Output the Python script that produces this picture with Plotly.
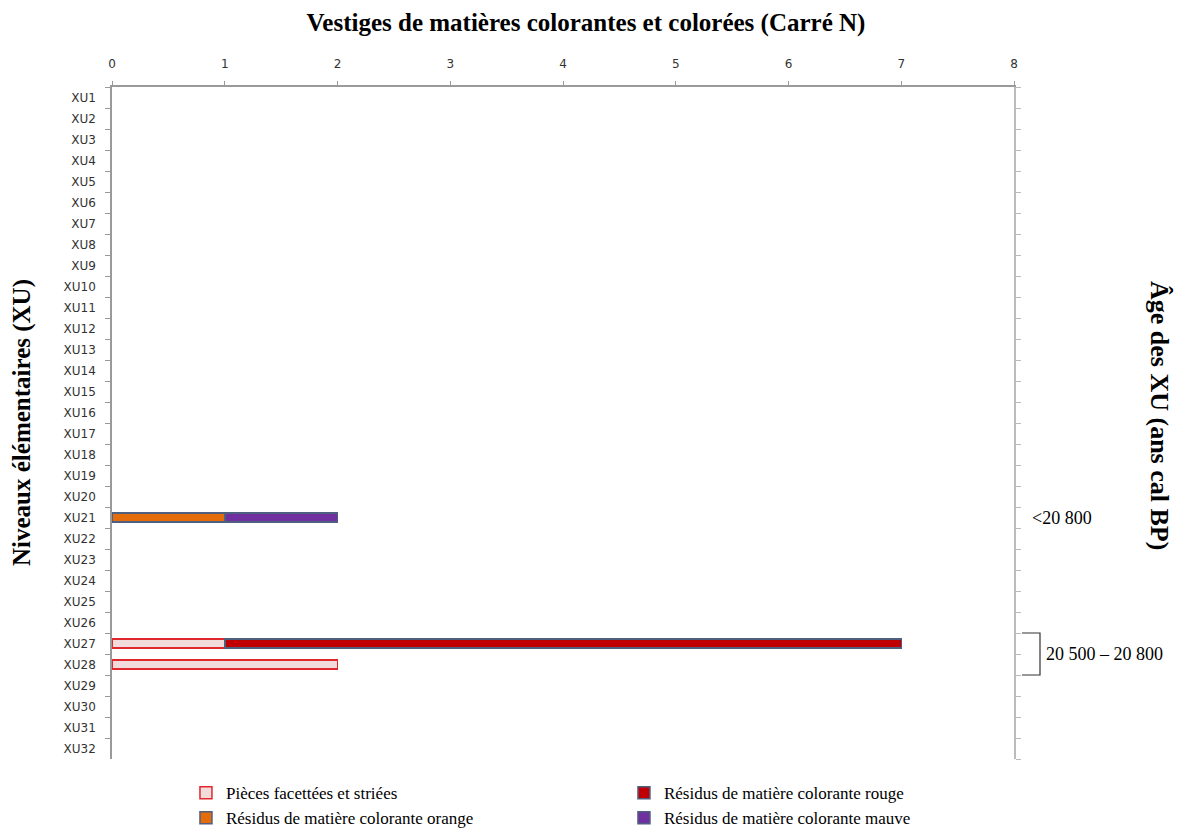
import plotly.graph_objects as go

categories = [f"XU{i}" for i in range(1, 33)]
x_ticks = [0, 1, 2, 3, 4, 5, 6, 7, 8]

# values per XU (index 0 = XU1 ... index 31 = XU32)
pieces_facettees = [0]*32
residus_rouge = [0]*32
residus_orange = [0]*32
residus_mauve = [0]*32
pieces_facettees[26] = 1   # XU27
pieces_facettees[27] = 2   # XU28
residus_rouge[26] = 6      # XU27
residus_orange[20] = 1     # XU21
residus_mauve[20] = 1      # XU21

age_labels = ["<20 800", "20 500 – 20 800"]
age_positions = [20.5, 27.0]   # in XU-index units on the right axis
bracket_span = [26, 28]

series = [
    ("Pièces facettées et striées", pieces_facettees, "#F2DCDB", "#E0282C"),
    ("Résidus de matière colorante rouge", residus_rouge, "#C00000", "#4F5F80"),
    ("Résidus de matière colorante orange", residus_orange, "#E46C0A", "#4F5F80"),
    ("Résidus de matière colorante mauve", residus_mauve, "#7030A0", "#4F5F80"),
]

fig = go.Figure()
for name, vals, fill, line in series:
    fig.add_trace(go.Bar(
        name=name, y=categories, x=[v if v else None for v in vals],
        orientation="h", marker=dict(color=fill, line=dict(color=line, width=1.5)),
        width=0.43,
    ))

serif = "Liberation Serif"
sans = "DejaVu Sans"
axis_col = "#9A9A9A"

# page body has an 8px margin: figure is drawn 8px lower/right
fig.update_layout(
    barmode="stack",
    width=1176, height=824,
    margin=dict(l=104, r=170, t=79, b=73, autoexpand=False),
    plot_bgcolor="white", paper_bgcolor="white",
    title=dict(text="<b>Vestiges de matières colorantes et colorées (Carré N)</b>",
               x=578/1176, xanchor="center", y=1-14/824, yanchor="middle",
               font=dict(family=serif, size=25, color="black")),
    xaxis=dict(side="top", range=[0, 8], tickvals=x_ticks, ticks="outside", ticklen=4,
               tickcolor=axis_col, showline=True, linecolor=axis_col, linewidth=1.5,
               showgrid=False, zeroline=False, ticklabelstandoff=8,
               tickfont=dict(family=sans, size=12, color="#333")),
    yaxis=dict(type="category", categoryarray=categories, range=[31.5, -0.5],
               tickson="boundaries", ticks="outside", ticklen=5, tickcolor=axis_col,
               showline=True, linecolor=axis_col, linewidth=1.5, showgrid=False,
               ticklabelstandoff=12,
               tickfont=dict(family=sans, size=12, color="#333")),
    yaxis2=dict(overlaying="y", side="right", anchor="x", range=[32, 0], dtick=1,
                ticks="outside", ticklen=5, tickcolor="#BBBBBB", showticklabels=False,
                showline=True, linecolor="#BBBBBB", linewidth=1.5, showgrid=False,
                zeroline=False),
    legend=dict(orientation="h", x=0.082, xanchor="left", y=-0.024, yanchor="top",
                entrywidth=393, entrywidthmode="pixels", itemwidth=30, traceorder="normal",
                font=dict(family=serif, size=17, color="black"), tracegroupgap=0),
    showlegend=True,
)

# invisible trace so yaxis2 exists
fig.add_trace(go.Scatter(x=[None], y=[None], yaxis="y2", showlegend=False, hoverinfo="skip"))

annotations = [
    dict(text="<b>Niveaux élémentaires (XU)</b>", xref="paper", yref="paper",
         x=(22-112)/902, y=0.5, textangle=-90, showarrow=False,
         font=dict(family=serif, size=25, color="black"), xanchor="center", yanchor="middle"),
    dict(text="<b>Âge des XU (ans cal BP)</b>", xref="paper", yref="paper",
         x=(1160-112)/902, y=(759-415)/672, textangle=90, showarrow=False,
         font=dict(family=serif, size=26, color="black"), xanchor="center", yanchor="middle"),
    dict(text=age_labels[0], xref="paper", yref="y2", x=(1030-112)/902, y=age_positions[0],
         showarrow=False, xanchor="left", yanchor="middle",
         font=dict(family=serif, size=18, color="black")),
    dict(text=age_labels[1], xref="paper", yref="y2", x=(1044-112)/902, y=age_positions[1],
         showarrow=False, xanchor="left", yanchor="middle",
         font=dict(family=serif, size=18, color="black")),
]
fig.update_layout(annotations=annotations)

bx0 = (1022-112)/902
bx1 = (1040-112)/902
fig.add_shape(type="path", xref="paper", yref="y2",
              path=f"M {bx0},{bracket_span[0]} H {bx1} V {bracket_span[1]} H {bx0}",
              line=dict(color="#333", width=1.2))

fig.write_html("out.html")
